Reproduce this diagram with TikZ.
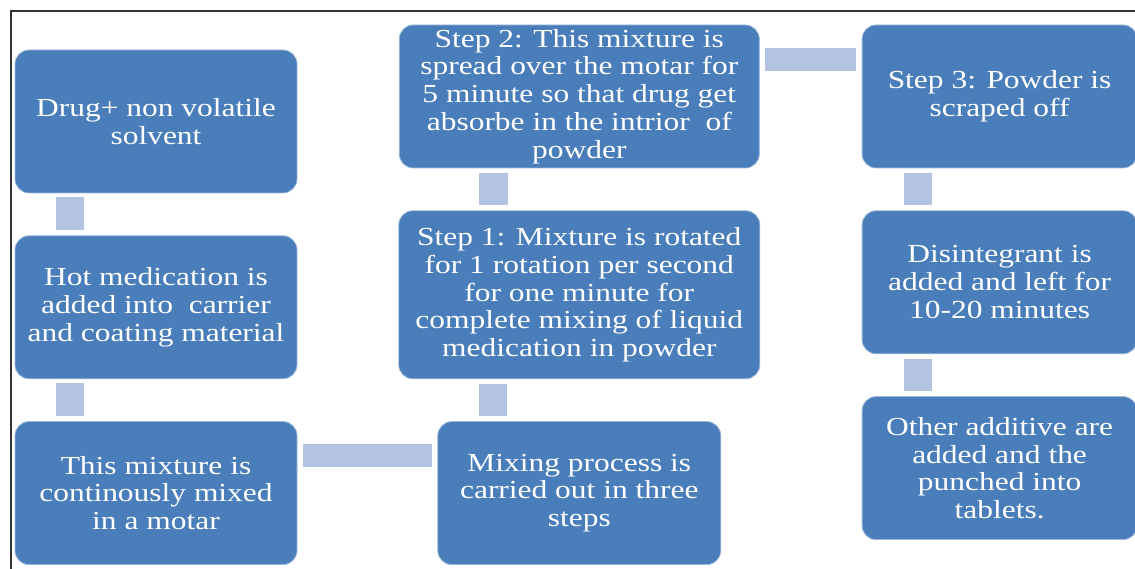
\documentclass[tikz,border=0pt]{standalone}
\usepackage{fontspec}
\setmainfont{Liberation Serif}[FakeStretch=1.21]
\usetikzlibrary{positioning}

\definecolor{boxblue}{HTML}{4A7EBB}
\definecolor{linkblue}{HTML}{B4C3E2}

\tikzset{
  box/.style={rectangle, rounded corners=14pt, fill=boxblue, draw=boxblue!55!white,
    line width=0.8pt, text=white, align=center, inner sep=0pt,
    font=\fontsize{26}{27.8}\selectfont},
  link/.style={fill=linkblue}
}

\begin{document}
\begin{tikzpicture}[x=1pt, y=1pt, node distance=42pt]
        \useasboundingbox (0,0) rectangle (1135,569);
        \draw[black!80, line width=1.5pt] (10,558) -- (1135,558);
        \draw[black!80, line width=1.5pt] (11,558) -- (11,0);

        \node[box, minimum width=282pt, minimum height=143pt] (drug) at (156,447.5) {Drug+ non volatile\\solvent};
        \node[box, minimum width=282pt, minimum height=143pt] (hot) [below=of drug] {Hot medication is\\added into\ \ carrier\\and coating material};
        \node[box, minimum width=282pt, minimum height=143pt] (mix) [below=of hot] {This mixture is\\continously mixed\\in a motar};
        \node[box, minimum width=283pt, minimum height=143pt] (process) [right=140pt of mix] {Mixing process is\\carried out in three\\steps};
        \node[box, minimum width=361pt, minimum height=168pt] (step_1) [above=of process] {Step 1: Mixture is rotated\\for 1 rotation per second\\for one minute for\\complete mixing of liquid\\medication in powder};
        \node[box, minimum width=360pt, minimum height=143pt] (step_2) [above=of step_1] {Step 2: This mixture is\\spread over the motar for\\5 minute so that drug get\\absorbe in the intrior\ \ of\\powder};
        \node[box, minimum width=275pt, minimum height=143pt] (step_3) [right=102pt of step_2] {Step 3: Powder is\\scraped off};
        \node[box, minimum width=275pt, minimum height=143pt] (disint) [below=of step_3] {Disintegrant is\\added and left for\\10-20 minutes};
        \node[box, minimum width=275pt, minimum height=143pt] (tablet) [below=of disint] {Other additive are\\added and the\\punched into\\tablets.};

        % connectors
        \fill[link] ([xshift=41pt,yshift=-4pt]drug.south west) rectangle ([xshift=69pt,yshift=5pt]hot.north west);
        \fill[link] ([xshift=41pt,yshift=-4pt]hot.south west) rectangle ([xshift=69pt,yshift=5pt]mix.north west);
        \fill[link] ([xshift=6pt,yshift=26.5pt]mix.east) rectangle ([xshift=-5pt,yshift=49.5pt]process.west);
        \fill[link] ([xshift=42pt,yshift=5pt]process.north west) rectangle ([xshift=109pt,yshift=-5pt]step_1.south west);
        \fill[link] ([xshift=81pt,yshift=5pt]step_1.north west) rectangle ([xshift=109pt,yshift=-5pt]step_2.south west);
        \fill[link] ([xshift=5pt,yshift=25.5pt]step_2.east) rectangle ([xshift=-6pt,yshift=48.5pt]step_3.west);
        \fill[link] ([xshift=42pt,yshift=-5pt]step_3.south west) rectangle ([xshift=70pt,yshift=5pt]disint.north west);
        \fill[link] ([xshift=42pt,yshift=-5pt]disint.south west) rectangle ([xshift=70pt,yshift=5pt]tablet.north west);
\end{tikzpicture}
\end{document}
